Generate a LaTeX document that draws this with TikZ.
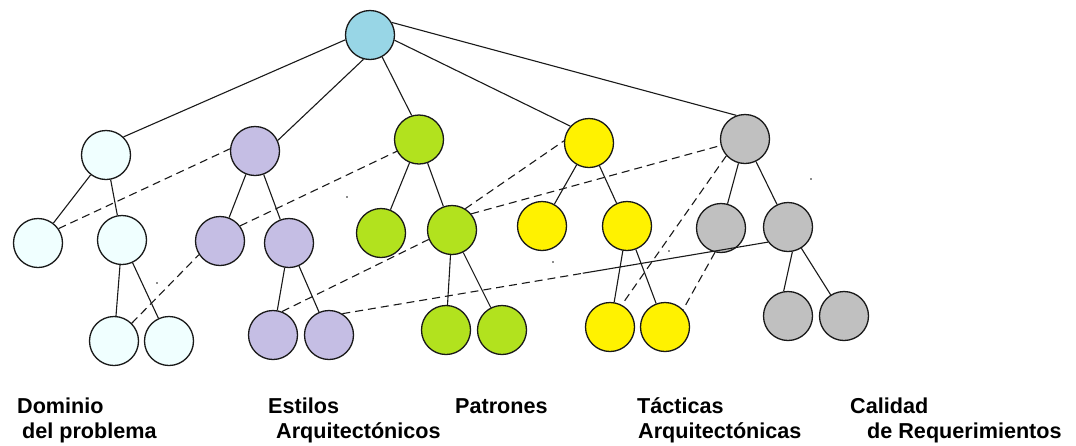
\documentclass[tikz,border=0pt]{standalone}
\usepackage{fontspec}
\setmainfont{Liberation Sans}
\usetikzlibrary{calc}
\definecolor{rootblue}{RGB}{152,214,230}
\definecolor{domfill}{RGB}{240,255,255}
\definecolor{lavfill}{RGB}{197,190,228}
\definecolor{grefill}{RGB}{178,226,30}
\definecolor{yelfill}{RGB}{255,242,0}
\definecolor{gryfill}{RGB}{192,192,192}
\definecolor{inkline}{RGB}{25,25,25}
\begin{document}
\begin{tikzpicture}[x=1pt,y=-1pt,
  ball/.style={circle,draw=inkline,line width=1.3pt,minimum size=49pt,inner sep=0pt},
  link/.style={draw=inkline,line width=1.1pt},
  xlink/.style={draw=inkline,line width=1.1pt,dash pattern=on 8pt off 5pt},
  speck/.style={fill=inkline,circle,inner sep=0pt,minimum size=1.8pt},
  lbl/.style={anchor=base west,inner sep=0pt,font=\bfseries\fontsize{21.6}{25}\selectfont}]
\useasboundingbox (0,0) rectangle (1076,445);

% root and first level
\node[ball,fill=rootblue] (root) at (370,35) {};
\node[ball,fill=domfill] (dom) at (106,155) {};
\node[ball,fill=lavfill] (lav) at (255,151) {};
\node[ball,fill=grefill] (gre) at (419,139.5) {};
\node[ball,fill=yelfill] (yel) at (589,143) {};
\node[ball,fill=gryfill] (gry) at (745,139) {};

% second and third levels
\node[ball,fill=domfill] (dc1) at (38,243) {};
\node[ball,fill=domfill] (dc2) at (122,240) {};
\node[ball,fill=domfill] (dg1) at (114,341) {};
\node[ball,fill=domfill] (dg2) at (169,341) {};

\node[ball,fill=lavfill] (lc1) at (220,241) {};
\node[ball,fill=lavfill] (lc2) at (289,243) {};
\node[ball,fill=lavfill] (lg1) at (273,335) {};
\node[ball,fill=lavfill] (lg2) at (329,335) {};

\node[ball,fill=grefill] (gc1) at (381,233) {};
\node[ball,fill=grefill] (gc2) at (452,230) {};
\node[ball,fill=grefill] (gg1) at (446,330) {};
\node[ball,fill=grefill] (gg2) at (502,330) {};

\node[ball,fill=yelfill] (yc1) at (542,226) {};
\node[ball,fill=yelfill] (yc2) at (627,226) {};
\node[ball,fill=yelfill] (yg1) at (610,327) {};
\node[ball,fill=yelfill] (yg2) at (665,327) {};

\node[ball,fill=gryfill] (rc1) at (721,228) {};
\node[ball,fill=gryfill] (rc2) at (788,227) {};
\node[ball,fill=gryfill] (rg1) at (788,316) {};
\node[ball,fill=gryfill] (rg2) at (844,316) {};

% tree edges
\path[link] (root.191) -- (dom.46);
\path[link] (root.255) -- (lav.25);
\path[link] (root.-61) -- (gre.107);
\path[link] (root.-12) -- (yel.138);
\path[link] (root.30) -- (gry.110);

\path[link] (dom) -- (dc1);
\path[link] (dom) -- (dc2);
\path[link] (dc2) -- (dg1);
\path[link] (dc2) -- (dg2);

\path[link] (lav) -- (lc1);
\path[link] (lav) -- (lc2);
\path[link] (lc2) -- (lg1);
\path[link] (lc2) -- (lg2);

\path[link] (gre) -- (gc1);
\path[link] (gre) -- (gc2);
\path[link] (gc2) -- (gg1);
\path[link] (gc2) -- (gg2);

\path[link] (yel) -- (yc1);
\path[link] (yel) -- (yc2);
\path[link] (yc2) -- (yg1);
\path[link] (yc2) -- (yg2);

\path[link] (gry) -- (rc1);
\path[link] (gry) -- (rc2);
\path[link] (rc2.-80) -- (rg1.100);
\path[link] (rc2) -- (rg2);

% cross links
\path[xlink] (dc1.35) -- (lav.175);
\path[xlink] (lc1.37) -- (gre.208);
\path[xlink] (dg1.45) -- (lc1.213);
\path[xlink] (lg1.69) -- (gc2.202);
\path[xlink] (gc2.58) -- (yel.175);
\path[xlink] (gc2.40) -- (gry.195);
\path[xlink] (gry.222) -- (yg1.62);
\path[xlink] (rc1.256) -- (yg2.44);
\path[xlink] (lg2.58) -- ($(lg2.58)!0.565!(rc2.217)$) coordinate (split);
\path[link] (split) -- (rc2.217);

% loose specks
\node[speck] (s1) at (347,197) {};
\node[speck] (s2) at (157,283) {};
\node[speck] (s3) at (553,262) {};
\node[speck] (s4) at (811,179) {};
\node[speck] (s5) at (669,251) {};

% captions
\node[lbl] (t1a) at (17,413) {Dominio};
\node[lbl] (t1b) at (22,438) {del problema};
\node[lbl] (t2a) at (268,413) {Estilos};
\node[lbl] (t2b) at (276,438) {Arquitectónicos};
\node[lbl] (t3a) at (455,413) {Patrones};
\node[lbl] (t4a) at (637,413) {Tácticas};
\node[lbl] (t4b) at (638,438) {Arquitectónicas};
\node[lbl] (t5a) at (850,413) {Calidad};
\node[lbl] (t5b) at (867,438) {de Requerimientos};
\end{tikzpicture}
\end{document}
